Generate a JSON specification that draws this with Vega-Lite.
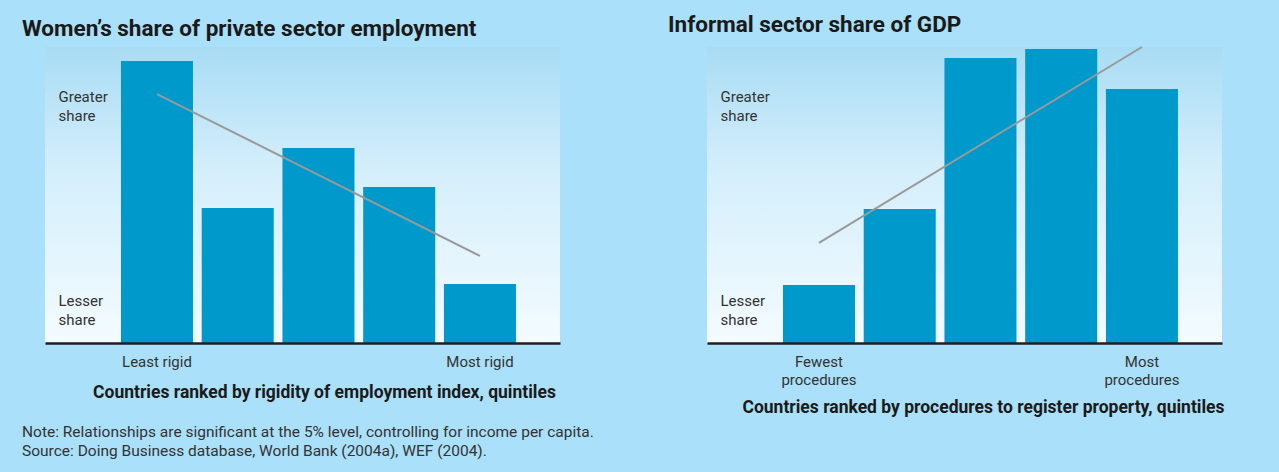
{
  "$schema": "https://vega.github.io/schema/vega-lite/v6.json",
  "background": "#aae0f9",
  "padding": {"left": 22, "top": 14, "right": 60, "bottom": 14},
  "config": {"view": {"stroke": null}, "font": "Roboto", "concat": {"spacing": 108}},
  "datasets": {
    "panel": [{"p": 1}],
    "women": [
      {"quintile": 1, "share": 95.3},
      {"quintile": 2, "share": 45.6},
      {"quintile": 3, "share": 65.9},
      {"quintile": 4, "share": 52.7},
      {"quintile": 5, "share": 19.9}
    ],
    "womenTrend": [
      {"quintile": 1, "trend": 84.1},
      {"quintile": 5, "trend": 29.4}
    ],
    "informal": [
      {"quintile": 1, "share": 19.6},
      {"quintile": 2, "share": 45.3},
      {"quintile": 3, "share": 96.3},
      {"quintile": 4, "share": 99.3},
      {"quintile": 5, "share": 85.8}
    ],
    "informalTrend": [
      {"quintile": 1, "trend": 33.8},
      {"quintile": 5, "trend": 100}
    ]
  },
  "title": {
    "text": ["Note: Relationships are significant at the 5% level, controlling for income per capita.", "Source: Doing Business database, World Bank (2004a), WEF (2004)."],
    "orient": "bottom",
    "anchor": "start",
    "frame": "bounds",
    "fontSize": 15.5,
    "fontWeight": "normal",
    "color": "#333333",
    "lineHeight": 19,
    "offset": 9.5
  },
  "hconcat": [
    {
      "width": 515,
      "height": 296,
      "title": {"text": "Women’s share of private sector employment", "anchor": "start", "dx": -23, "fontSize": 22.5, "fontWeight": "bold", "color": "#1a1a1a", "offset": 6.5},
      "layer": [
        {
          "data": {"name": "panel"},
          "mark": {"type": "rect", "color": {"gradient": "linear", "x1": 0, "y1": 0, "x2": 0, "y2": 1, "stops": [{"offset": 0, "color": "#a8dcf4"}, {"offset": 0.4, "color": "#d3eefb"}, {"offset": 1, "color": "#f4fbff"}]}},
          "encoding": {}
        },
        {
          "data": {"name": "women"},
          "mark": {"type": "bar", "color": "#0099cc"},
          "encoding": {
            "x": {"field": "quintile", "type": "ordinal",
              "scale": {"paddingInner": 0.108, "paddingOuter": 0.743, "align": 0.633},
              "axis": {"labelExpr": "datum.value == 1 ? 'Least rigid' : datum.value == 5 ? 'Most rigid' : ''", "labelAngle": 0, "ticks": false, "domainColor": "#231f20", "domainWidth": 2.5, "labelFontSize": 15, "labelColor": "#333333", "labelPadding": 11, "title": "Countries ranked by rigidity of employment index, quintiles", "titleFontSize": 17.5, "titleFontWeight": "bold", "titleColor": "#1a1a1a", "titlePadding": 14, "titleX": 279, "zindex": 1}},
            "y": {"field": "share", "type": "quantitative",
              "scale": {"domain": [0, 100], "nice": false},
              "axis": {"values": [83.4, 14.4], "labelExpr": "datum.value > 50 ? ['Greater', 'share'] : ['Lesser', 'share']", "labelAlign": "left", "labelBaseline": "middle", "labelPadding": -13, "ticks": false, "domain": false, "grid": false, "title": null, "labelFontSize": 15, "labelColor": "#333333", "labelLineHeight": 19, "labelBound": false, "labelOverlap": false, "zindex": 1}}
          }
        },
        {
          "data": {"name": "womenTrend"},
          "mark": {"type": "line", "color": "#999999", "strokeWidth": 2},
          "encoding": {
            "x": {"field": "quintile", "type": "ordinal"},
            "y": {"field": "trend", "type": "quantitative"}
          }
        }
      ]
    },
    {
      "width": 515,
      "height": 296,
      "title": {"text": "Informal sector share of GDP", "anchor": "start", "dx": -39, "fontSize": 22.5, "fontWeight": "bold", "color": "#1a1a1a", "offset": 6.5},
      "layer": [
        {
          "data": {"name": "panel"},
          "mark": {"type": "rect", "color": {"gradient": "linear", "x1": 0, "y1": 0, "x2": 0, "y2": 1, "stops": [{"offset": 0, "color": "#a8dcf4"}, {"offset": 0.4, "color": "#d3eefb"}, {"offset": 1, "color": "#f4fbff"}]}},
          "encoding": {}
        },
        {
          "data": {"name": "informal"},
          "mark": {"type": "bar", "color": "#0099cc"},
          "encoding": {
            "x": {"field": "quintile", "type": "ordinal",
              "scale": {"paddingInner": 0.108, "paddingOuter": 0.743, "align": 0.633},
              "axis": {"labelExpr": "datum.value == 1 ? ['Fewest', 'procedures'] : datum.value == 5 ? ['Most', 'procedures'] : ''", "labelAngle": 0, "ticks": false, "domainColor": "#231f20", "domainWidth": 2.5, "labelFontSize": 15, "labelColor": "#333333", "labelPadding": 11, "labelLineHeight": 18, "title": "Countries ranked by procedures to register property, quintiles", "titleFontSize": 17.5, "titleFontWeight": "bold", "titleColor": "#1a1a1a", "titlePadding": 11, "titleX": 276, "zindex": 1}},
            "y": {"field": "share", "type": "quantitative",
              "scale": {"domain": [0, 100], "nice": false},
              "axis": {"values": [83.4, 14.4], "labelExpr": "datum.value > 50 ? ['Greater', 'share'] : ['Lesser', 'share']", "labelAlign": "left", "labelBaseline": "middle", "labelPadding": -13, "ticks": false, "domain": false, "grid": false, "title": null, "labelFontSize": 15, "labelColor": "#333333", "labelLineHeight": 19, "labelBound": false, "labelOverlap": false, "zindex": 1}}
          }
        },
        {
          "data": {"name": "informalTrend"},
          "mark": {"type": "line", "color": "#999999", "strokeWidth": 2},
          "encoding": {
            "x": {"field": "quintile", "type": "ordinal"},
            "y": {"field": "trend", "type": "quantitative"}
          }
        }
      ]
    }
  ]
}
